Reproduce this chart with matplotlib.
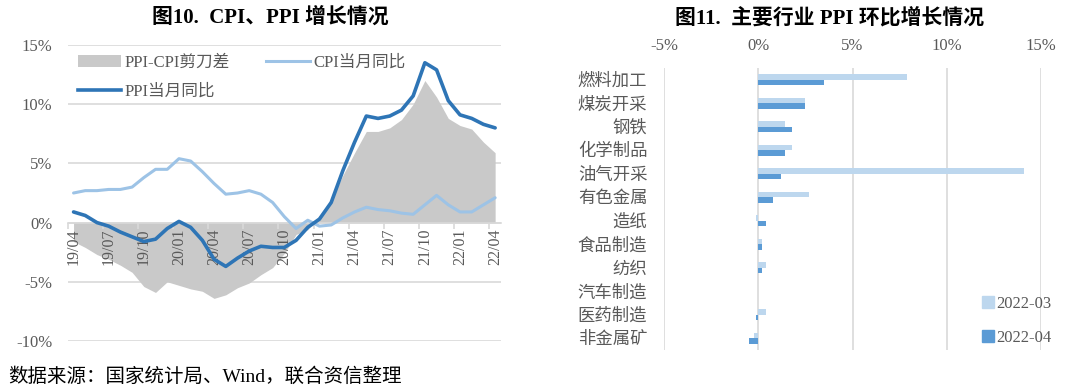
import numpy as np
import matplotlib.pyplot as plt
from matplotlib.patches import Patch
from matplotlib.lines import Line2D

plt.rcParams['font.family'] = ['Liberation Serif', 'Noto Sans CJK SC']

# ---- left chart data (monthly, 2019/04 - 2022/04) ----
months = ['19/04', '19/05', '19/06', '19/07', '19/08', '19/09', '19/10', '19/11', '19/12',
          '20/01', '20/02', '20/03', '20/04', '20/05', '20/06', '20/07', '20/08', '20/09',
          '20/10', '20/11', '20/12', '21/01', '21/02', '21/03', '21/04', '21/05', '21/06',
          '21/07', '21/08', '21/09', '21/10', '21/11', '21/12', '22/01', '22/02', '22/03', '22/04']
ppi = [0.9, 0.6, 0.0, -0.3, -0.8, -1.2, -1.6, -1.4, -0.5,
       0.1, -0.4, -1.5, -3.1, -3.7, -3.0, -2.4, -2.0, -2.1,
       -2.1, -1.5, -0.4, 0.3, 1.7, 4.4, 6.8, 9.0, 8.8,
       9.0, 9.5, 10.7, 13.5, 12.9, 10.3, 9.1, 8.8, 8.3, 8.0]
cpi = [2.5, 2.7, 2.7, 2.8, 2.8, 3.0, 3.8, 4.5, 4.5,
       5.4, 5.2, 4.3, 3.3, 2.4, 2.5, 2.7, 2.4, 1.7,
       0.5, -0.5, 0.2, -0.3, -0.2, 0.4, 0.9, 1.3, 1.1,
       1.0, 0.8, 0.7, 1.5, 2.3, 1.5, 0.9, 0.9, 1.5, 2.1]

# ---- right chart data ----
industries = ['燃料加工', '煤炭开采', '钢铁', '化学制品', '油气开采', '有色金属',
              '造纸', '食品制造', '纺织', '汽车制造', '医药制造', '非金属矿']
mom_2203 = [7.9, 2.5, 1.4, 1.8, 14.1, 2.7, -0.1, 0.2, 0.4, 0.0, 0.4, -0.2]
mom_2204 = [3.5, 2.5, 1.8, 1.4, 1.2, 0.8, 0.4, 0.2, 0.2, 0.0, -0.1, -0.5]

GRID = '#D9D9D9'
TXT = '#595959'

fig = plt.figure(figsize=(10.8, 3.92), dpi=100)

# ================= left: CPI / PPI =================
ax = fig.add_axes([67.7 / 1080, 1 - 341 / 392, (501 - 67.7) / 1080, (341 - 45) / 392])
x = np.arange(len(months))
gap = np.array(ppi) - np.array(cpi)
ax.fill_between(x, 0, gap, color='#C9C9C9', lw=0, zorder=1)
ax.plot(x, cpi, color='#9DC3E6', lw=2.2, zorder=3, solid_capstyle='round')
ax.plot(x, ppi, color='#2E75B6', lw=2.6, zorder=4, solid_capstyle='round')

ax.set_xlim(-0.5, len(months) - 0.5)
ax.set_ylim(-10, 15)
ax.set_yticks([-10, -5, 0, 5, 10, 15])
ax.set_yticklabels(['-10%', '-5%', '0%', '5%', '10%', '15%'])
ax.yaxis.grid(True, color=GRID, lw=1.2)
# grid under the area, date labels on top of it
ax.yaxis.set_zorder(0.5)
ax.xaxis.set_zorder(2.5)
for s in ['top', 'right', 'left']:
    ax.spines[s].set_visible(False)
ax.spines['bottom'].set_position(('data', 0))
ax.spines['bottom'].set_color(GRID)
ax.spines['bottom'].set_linewidth(1.2)
ax.spines['bottom'].set_zorder(2.5)
ax.set_xticks(x[::3])
ax.set_xticklabels(months[::3], rotation=90, va='top', ha='center')
ax.set_xticks(np.arange(-0.5, len(months), 3), minor=True)
ax.tick_params(axis='x', which='major', length=0, pad=4, labelsize=11.5, labelcolor=TXT)
ax.tick_params(axis='x', which='minor', length=4, color=GRID, width=1.2, direction='out')
ax.tick_params(axis='y', length=0, pad=11, labelsize=12, labelcolor=TXT)

h_gap = Patch(facecolor='#C9C9C9', edgecolor='none')
h_cpi = Line2D([], [], color='#9DC3E6', lw=2.2)
h_ppi = Line2D([], [], color='#2E75B6', lw=2.6)
leg = ax.legend([h_gap, h_ppi, h_cpi], ['PPI-CPI剪刀差', 'PPI当月同比', 'CPI当月同比'],
                ncol=2, loc='upper left', bbox_to_anchor=(0.0, 1.0), frameon=False,
                fontsize=12, handlelength=2.6, handletextpad=0.2, columnspacing=2.2,
                labelspacing=0.75, borderaxespad=0.2)
for t in leg.get_texts():
    t.set_color(TXT)

fig.text(270 / 1080, 1 - 18 / 392, '图10.  CPI、PPI 增长情况', ha='center', va='center',
         fontsize=15, fontweight='bold')

# ================= right: industry PPI m/m =================
bx = fig.add_axes([664 / 1080, 1 - 350 / 392, (1041 - 664) / 1080, (350 - 68) / 392])
y = np.arange(len(industries))
bh = 0.24
bx.barh(y - bh / 2, mom_2203, height=bh, color='#BDD7EE', label='2022-03', zorder=3)
bx.barh(y + bh / 2, mom_2204, height=bh, color='#5B9BD5', label='2022-04', zorder=3)
bx.set_xlim(-5, 15)
bx.set_ylim(len(industries) - 0.5, -0.5)
bx.set_xticks([-5, 0, 5, 10, 15])
bx.set_xticklabels(['-5%', '0%', '5%', '10%', '15%'])
bx.xaxis.tick_top()
bx.xaxis.grid(True, color=GRID, lw=1.2)
bx.set_axisbelow(True)
for s in ['top', 'right', 'left', 'bottom']:
    bx.spines[s].set_visible(False)
bx.set_yticks(y)
bx.set_yticklabels(industries)
bx.tick_params(axis='x', length=0, pad=10, labelsize=12, labelcolor=TXT)
bx.tick_params(axis='y', length=0, pad=12, labelsize=12.5, labelcolor=TXT)

lh = [Line2D([], [], marker='s', ls='none', color='#BDD7EE', markersize=8),
      Line2D([], [], marker='s', ls='none', color='#5B9BD5', markersize=8)]
leg2 = fig.legend(lh, ['2022-03', '2022-04'], loc='center left',
                  bbox_to_anchor=(968 / 1080, 1 - 321 / 392), frameon=False, fontsize=12,
                  handlelength=0.6, handletextpad=0.2, labelspacing=1.1)
for t in leg2.get_texts():
    t.set_color(TXT)

fig.text(830 / 1080, 1 - 18 / 392, '图11.  主要行业 PPI 环比增长情况', ha='center', va='center',
         fontsize=15, fontweight='bold')

fig.text(8 / 1080, 1 - 377 / 392, '数据来源：国家统计局、Wind，联合资信整理', ha='left', va='center',
         fontsize=14)

fig.savefig('out.png', dpi=100)
